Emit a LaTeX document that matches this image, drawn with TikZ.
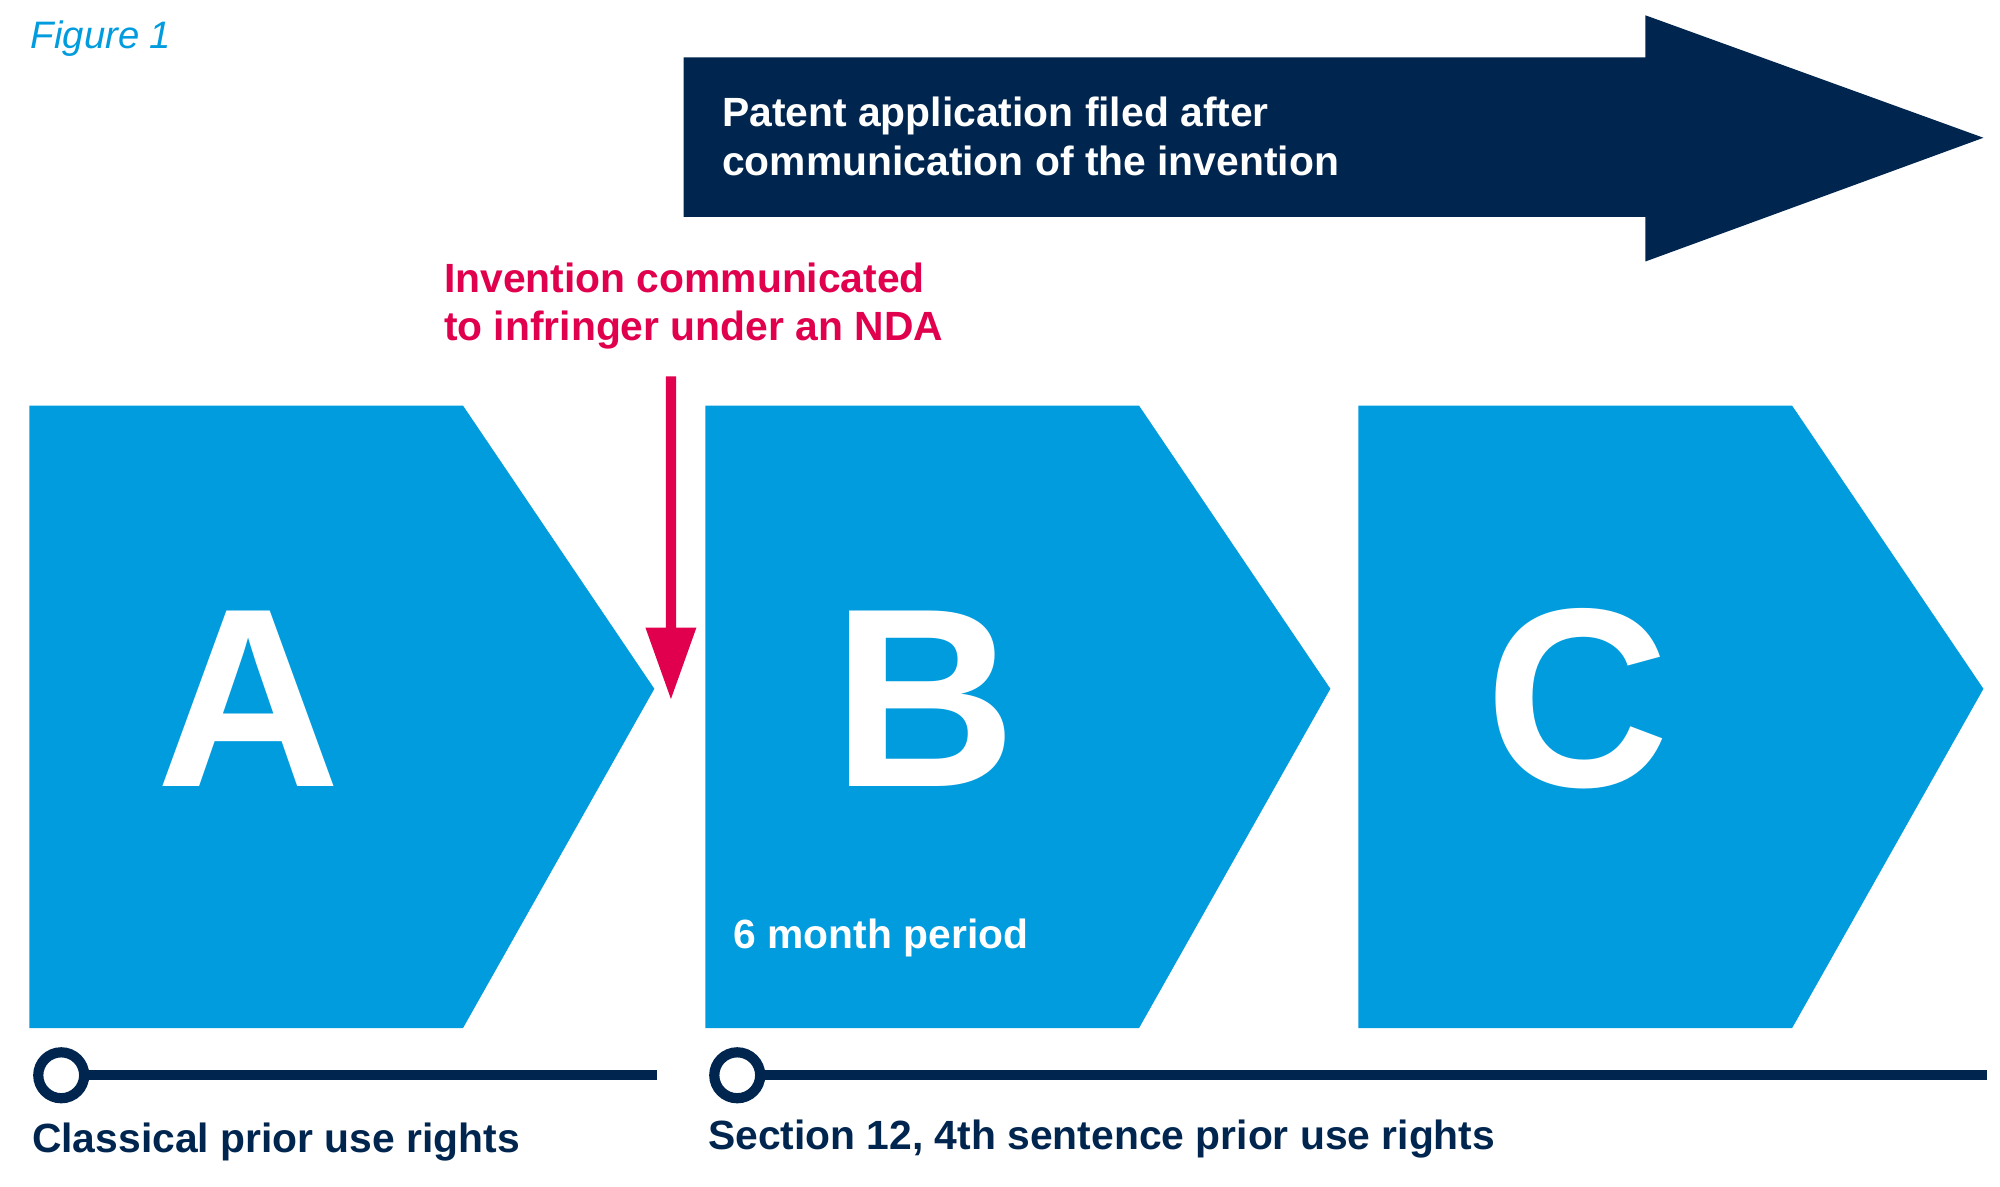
\documentclass[tikz,border=0pt]{standalone}
\usepackage{fontspec}
\setmainfont{Liberation Sans}
\begin{document}
\begin{tikzpicture}[x=1pt,y=-1pt,
  chev/.style={fill=cyanb,draw=none},
  big/.style={text=white,font=\bfseries\fontsize{200}{200}\selectfont,inner sep=0},
  lbl/.style={anchor=west,inner sep=0,font=\bfseries\fontsize{32}{38}\selectfont,align=left},
  tl/.style={draw=navy,line width=8},
]
\definecolor{navy}{HTML}{00264F}
\definecolor{cyanb}{HTML}{009CDE}
\definecolor{redp}{HTML}{E0004D}
\useasboundingbox (0,0) rectangle (1568,930);
\fill[white] (0,0) rectangle (1568,930);
\node[anchor=west,inner sep=0,text=cyanb,font=\itshape\fontsize{30}{30}\selectfont] (fig) at (24,30) {Figure 1};
\fill[navy] (536,45) -- (1290,45) -- (1290,12) -- (1555,108) -- (1290,205) -- (1290,170) -- (536,170) -- cycle;
\node[lbl,text=white] (pat) at (566,107) {Patent application filed after\\communication of the invention};
\node[lbl,text=redp] (inv) at (348,240) {Invention communicated\\to infringer under an NDA};
\fill[chev] (23,318) -- (363,318) -- (513,540) -- (363,806) -- (23,806) -- cycle;
\fill[chev] (553,318) -- (893,318) -- (1043,540) -- (893,806) -- (553,806) -- cycle;
\fill[chev] (1065,318) -- (1405,318) -- (1555,540) -- (1405,806) -- (1065,806) -- cycle;
\node[big] (A) at (195,548) {A};
\node[big] (B) at (725,548) {B};
\node[big] (C) at (1237,548) {C};
\node[lbl,text=white] (six) at (575,735) {6 month period};
\coordinate (arS) at (526,295);
\coordinate (arE) at (526,548);
\fill[redp] (522,295) -- (530,295) -- (530,492) -- (546,492) -- (526,548) -- (506,492) -- (522,492) -- cycle;
\node[circle,draw=navy,line width=8,fill=white,minimum size=36,inner sep=0] (c1) at (48,843) {};
\node[circle,draw=navy,line width=8,fill=white,minimum size=36,inner sep=0] (c2) at (578,843) {};
\coordinate (e1) at (515,843);
\coordinate (e2) at (1558,843);
\draw[tl] (c1.east) -- (e1);
\draw[tl] (c2.east) -- (e2);
\node[lbl,text=navy] (l1) at (25,895) {Classical prior use rights};
\node[lbl,text=navy] (l2) at (555,893) {Section 12, 4th sentence prior use rights};
\end{tikzpicture}
\end{document}
